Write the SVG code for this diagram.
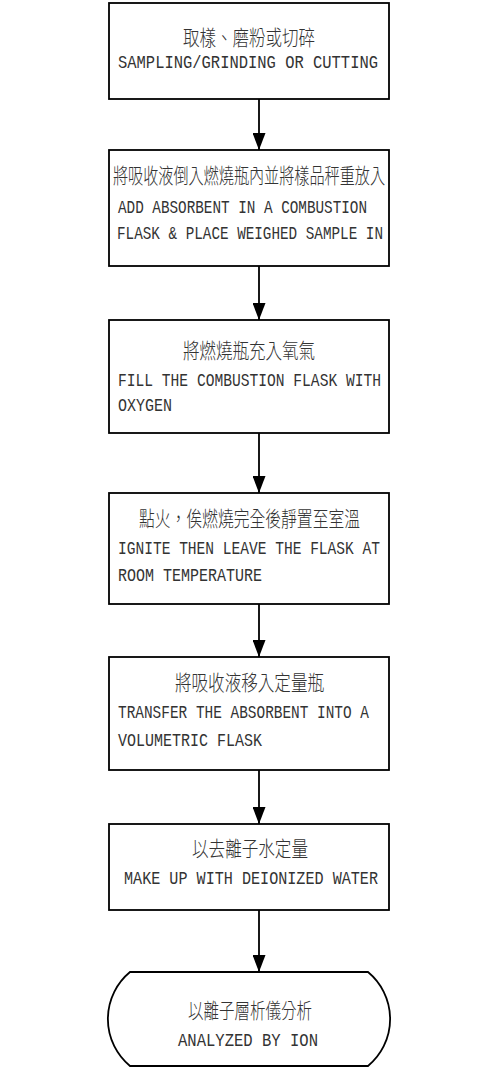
<svg xmlns="http://www.w3.org/2000/svg" width="497" height="1068" viewBox="0 0 497 1068">
  <style>
    .box { fill: #fff; stroke: #000; stroke-width: 1.8; }
    .zh { font-family: "Noto Sans CJK TC", "Noto Sans CJK SC", sans-serif; font-size: 21px; font-weight: 300; fill: #333; }
    .en { font-family: "Liberation Mono", "Courier New", monospace; font-size: 18px; fill: #333; }
    .link { stroke: #000; stroke-width: 1.8; fill: none; marker-end: url(#head); }
  </style>
  <defs>
    <marker id="head" viewBox="0 0 17 13" refX="17" refY="6.5" markerUnits="userSpaceOnUse" markerWidth="17" markerHeight="13" orient="auto">
      <path d="M0,0 L17,6.5 L0,13 Z" fill="#000"/>
    </marker>
  </defs>
  <rect width="497" height="1068" fill="#fff"/>

  <!-- downward flow arrows between the steps -->
  <g id="connectors">
    <line class="link" x1="259" y1="99" x2="259" y2="150"/>
    <line class="link" x1="259" y1="266" x2="259" y2="320"/>
    <line class="link" x1="259" y1="433" x2="259" y2="493"/>
    <line class="link" x1="259" y1="604" x2="259" y2="657"/>
    <line class="link" x1="259" y1="770" x2="259" y2="824"/>
    <line class="link" x1="259" y1="910" x2="259" y2="972"/>
  </g>

  <g id="step-sampling">
    <rect class="box" x="109" y="3" width="280" height="96"/>
    <text class="zh" x="183" y="45" textLength="132" lengthAdjust="spacingAndGlyphs">取樣、磨粉或切碎</text>
    <text class="en" x="118" y="68" textLength="260" lengthAdjust="spacingAndGlyphs">SAMPLING/GRINDING OR CUTTING</text>
  </g>

  <g id="step-absorbent">
    <rect class="box" x="109" y="150" width="280" height="116"/>
    <text class="zh" x="113" y="183" textLength="272" lengthAdjust="spacingAndGlyphs">將吸收液倒入燃燒瓶內並將樣品秤重放入</text>
    <text class="en" x="118" y="213" textLength="249" lengthAdjust="spacingAndGlyphs">ADD ABSORBENT IN A COMBUSTION</text>
    <text class="en" x="117" y="239" textLength="266" lengthAdjust="spacingAndGlyphs">FLASK &amp; PLACE WEIGHED SAMPLE IN</text>
  </g>

  <g id="step-oxygen">
    <rect class="box" x="109" y="320" width="280" height="113"/>
    <text class="zh" x="183" y="358" textLength="132" lengthAdjust="spacingAndGlyphs">將燃燒瓶充入氧氣</text>
    <text class="en" x="118" y="386" textLength="263" lengthAdjust="spacingAndGlyphs">FILL THE COMBUSTION FLASK WITH</text>
    <text class="en" x="118" y="411" textLength="54" lengthAdjust="spacingAndGlyphs">OXYGEN</text>
  </g>

  <g id="step-ignite">
    <rect class="box" x="109" y="493" width="280" height="111"/>
    <text class="zh" x="139" y="526" textLength="221" lengthAdjust="spacingAndGlyphs">點火，俟燃燒完全後靜置至室溫</text>
    <text class="en" x="118" y="554" textLength="262" lengthAdjust="spacingAndGlyphs">IGNITE THEN LEAVE THE FLASK AT</text>
    <text class="en" x="118" y="581" textLength="144" lengthAdjust="spacingAndGlyphs">ROOM TEMPERATURE</text>
  </g>

  <g id="step-transfer">
    <rect class="box" x="109" y="657" width="280" height="113"/>
    <text class="zh" x="175" y="690" textLength="149" lengthAdjust="spacingAndGlyphs">將吸收液移入定量瓶</text>
    <text class="en" x="118" y="718" textLength="251" lengthAdjust="spacingAndGlyphs">TRANSFER THE ABSORBENT INTO A</text>
    <text class="en" x="118" y="746" textLength="144" lengthAdjust="spacingAndGlyphs">VOLUMETRIC FLASK</text>
  </g>

  <g id="step-makeup">
    <rect class="box" x="109" y="824" width="280" height="86"/>
    <text class="zh" x="192" y="856" textLength="116" lengthAdjust="spacingAndGlyphs">以去離子水定量</text>
    <text class="en" x="124" y="884" textLength="254" lengthAdjust="spacingAndGlyphs">MAKE UP WITH DEIONIZED WATER</text>
  </g>

  <!-- terminal step with rounded ends -->
  <g id="step-analysis">
    <path class="box" d="M130,972 H368 A61,61 0 0 1 368,1066 H130 A61,61 0 0 1 130,972 Z"/>
    <text class="zh" x="188" y="1018" textLength="124" lengthAdjust="spacingAndGlyphs">以離子層析儀分析</text>
    <text class="en" x="178" y="1046" textLength="140" lengthAdjust="spacingAndGlyphs">ANALYZED BY ION</text>
  </g>
</svg>
